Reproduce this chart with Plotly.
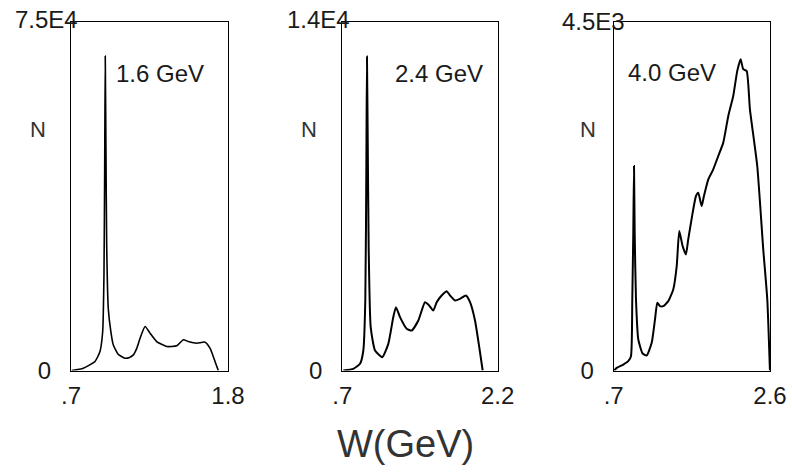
import plotly.graph_objects as go

# ---------------- data ----------------
energies = ["1.6 GeV", "2.4 GeV", "4.0 GeV"]
x_max = [1.8, 2.2, 2.6]
y_max = [7.5e4, 1.4e4, 4.5e3]
y_top_labels = ["7.5E4", "1.4E4", "4.5E3"]
x_tick_labels = [[".7", "1.8"], [".7", "2.2"], [".7", "2.6"]]

W1 = [0.705, 0.786, 0.868, 0.903, 0.922, 0.931, 0.936, 0.940, 0.945, 0.950, 0.961,
      0.980, 0.996, 1.030, 1.078, 1.110, 1.137, 1.160, 1.184, 1.219, 1.254, 1.300,
      1.371, 1.441, 1.487, 1.522, 1.581, 1.639, 1.674, 1.709, 1.732]
N1 = [0, 500, 1930, 4080, 8380, 20560, 43470, 67600, 47060, 27080, 13390,
      8200, 5520, 3500, 2640, 2800, 3360, 4700, 6940, 9460, 8020, 6230,
      5160, 5300, 6600, 6230, 5870, 6090, 4790, 1930, 0]

W2 = [0.71, 0.806, 0.871, 0.903, 0.922, 0.932, 0.938, 0.945, 0.955, 0.974, 1.016,
      1.086, 1.144, 1.192, 1.218, 1.257, 1.322, 1.370, 1.434, 1.498, 1.530, 1.578,
      1.611, 1.659, 1.708, 1.740, 1.788, 1.836, 1.894, 1.933, 1.981, 2.022, 2.055]
N2 = [0, 68, 268, 802, 2808, 8155, 12596, 9495, 4814, 1737, 802,
      535, 1070, 2139, 2540, 2139, 1671, 1604, 2005, 2740, 2647, 2406,
      2740, 3008, 3182, 3008, 2808, 2875, 3008, 2740, 2005, 935, 0]

W3 = [0.707, 0.736, 0.817, 0.877, 0.910, 0.926, 0.938, 0.947, 0.955, 0.971, 0.999,
      1.052, 1.101, 1.162, 1.202, 1.230, 1.263, 1.303, 1.363, 1.424, 1.466, 1.497,
      1.538, 1.578, 1.606, 1.660, 1.700, 1.728, 1.769, 1.797, 1.850, 1.910, 1.971,
      2.032, 2.093, 2.153, 2.202, 2.243, 2.275, 2.316, 2.356, 2.445, 2.518, 2.567, 2.599]
N3 = [0, 34, 77, 120, 185, 916, 1777, 2637, 1777, 916, 400,
      219, 194, 357, 658, 874, 830, 830, 894, 1045, 1346, 1798,
      1604, 1497, 1690, 2035, 2250, 2293, 2120, 2250, 2465, 2594, 2766,
      2938, 3282, 3540, 3863, 4014, 3885, 3863, 3368, 2637, 1562, 916, 0]

series = [(W1, N1), (W2, N2), (W3, N3)]

# ---------------- layout helpers ----------------
W, H = 792, 473
x_domains = [[71 / W, 228 / W], [342.3 / W, 497.7 / W], [613.7 / W, 770 / W]]
y_domain = [1 - 370.5 / H, 1 - 21.5 / H]
line_widths = [1.6, 2.0, 2.0]
top_shift = [9, 10, 13]
top_yshift = [2, 2, 0]
en_pos = [(0.567, 0.851), (0.625, 0.851), (0.370, 0.855)]
n_shift = [-33, -33, -26]
FONT = "Liberation Sans, Arial, sans-serif"
TXT = "#1a1a1a"

fig = go.Figure()
annotations = []
for i, (wx, ny) in enumerate(series):
    sfx = "" if i == 0 else str(i + 1)
    fig.add_trace(go.Scatter(x=wx, y=ny, mode="lines",
                             line=dict(color="black", width=line_widths[i],
                                       shape="spline", smoothing=0.5),
                             xaxis="x" + sfx, yaxis="y" + sfx, showlegend=False,
                             hoverinfo="skip", cliponaxis=True))
    ax = dict(domain=x_domains[i], range=[0.7, x_max[i]], showgrid=False,
              zeroline=False, showline=True, mirror=True, linecolor="black",
              linewidth=1.3, ticks="", tickvals=[0.7, x_max[i]],
              ticktext=x_tick_labels[i], automargin=False,
              tickfont=dict(family=FONT, size=24, color=TXT),
              ticklabelstandoff=4, anchor="y" + sfx, fixedrange=True)
    ay = dict(domain=y_domain, range=[0, y_max[i]], showgrid=False,
              zeroline=False, showline=True, mirror=True, linecolor="black",
              linewidth=1.3, ticks="", tickvals=[0], ticktext=["0"],
              automargin=False,
              tickfont=dict(family=FONT, size=24, color=TXT),
              ticklabelstandoff=14, anchor="x" + sfx, fixedrange=True)
    fig.layout["xaxis" + sfx] = ax
    fig.layout["yaxis" + sfx] = ay
    xr = "x" + sfx + " domain"
    yr = "y" + sfx + " domain"
    annotations.append(dict(text=y_top_labels[i], xref=xr, yref=yr, x=0, y=1,
                            xanchor="right", yanchor="middle", xshift=top_shift[i],
                            yshift=top_yshift[i], showarrow=False,
                            font=dict(family=FONT, size=24, color=TXT)))
    annotations.append(dict(text=energies[i], xref=xr, yref=yr,
                            x=en_pos[i][0], y=en_pos[i][1], xanchor="center",
                            yanchor="middle", showarrow=False,
                            font=dict(family=FONT, size=24, color=TXT)))
    annotations.append(dict(text="N", xref=xr, yref=yr, x=0, y=0.69,
                            xanchor="center", yanchor="middle", xshift=n_shift[i],
                            showarrow=False,
                            font=dict(family=FONT, size=22, color="#333333")))

annotations.append(dict(text="W(GeV)", xref="paper", yref="paper",
                        x=405.8 / W, y=1 - 444 / H, xanchor="center",
                        yanchor="middle", showarrow=False,
                        font=dict(family=FONT, size=38, color="#333333")))

fig.update_layout(width=W, height=H, margin=dict(l=0, r=0, t=0, b=0, pad=0),
                  paper_bgcolor="white", plot_bgcolor="white",
                  template="none", annotations=annotations)

fig.write_html("out.html")
